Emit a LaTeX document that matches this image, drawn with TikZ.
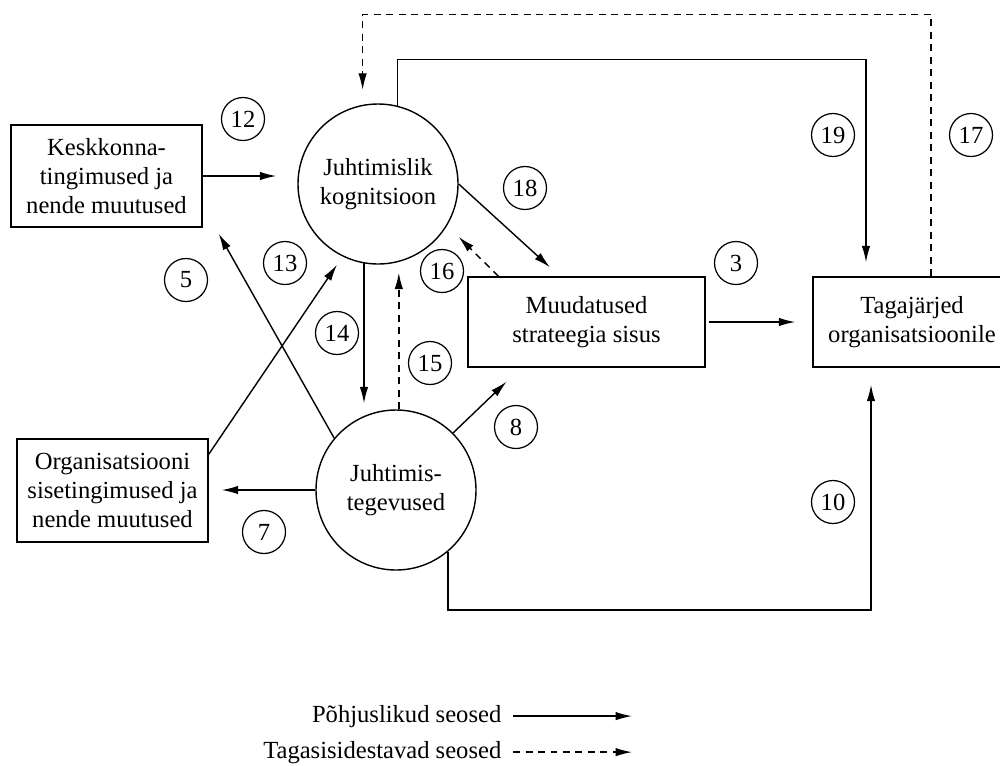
\documentclass[tikz,border=0pt]{standalone}
\usepackage{fontspec}
\setmainfont{Liberation Serif}
\usetikzlibrary{arrows.meta}
\newlength{\pxu}
\setlength{\pxu}{0.02cm}
\begin{document}
\begin{tikzpicture}[x=0.02cm, y=-0.02cm, line width=0.8pt,
		font=\fontsize{14}{16.5}\selectfont,
		block/.style={draw, align=center, inner sep=0pt},
		bubble/.style={draw, circle, align=center, inner sep=0pt, minimum size=160\pxu},
		tag/.style={draw, circle, inner sep=0pt, minimum size=43\pxu, line width=0.7pt},
		cause/.style={-{Latex[length=3.3mm, width=1.7mm]}},
		fb/.style={cause, dash pattern=on 1.4mm off 1.1mm}]
	\useasboundingbox (0,0) rectangle (1000,765);
	\clip (0,0) rectangle (1000,765);

	\node[block, minimum width=191\pxu, minimum height=102\pxu] (env) at (106.5,176) {Keskkonna-\\tingimused ja\\nende muutused};
	\node[block, minimum width=191\pxu, minimum height=103\pxu] (org) at (112.5,490.5) {Organisatsiooni\\sisetingimused ja\\nende muutused};
	\node[block, minimum width=237\pxu, minimum height=90\pxu] (str) at (586.5,322) {Muudatused\\strateegia sisus};
	\node[block, minimum width=198\pxu, minimum height=90\pxu] (res) at (912,322) {Tagajärjed\\organisatsioonile};
	\node[bubble] (cog) at (378,184) {Juhtimislik\\kognitsioon};
	\node[bubble] (act) at (396,490) {Juhtimis-\\tegevused};

	\begin{scope}[cause]
		\draw[shorten >=21\pxu] (env.east) -- (env.east -| cog.west);
		\draw ([yshift=-16\pxu]org.north east) -- ([xshift=-41\pxu]cog.south);
		\draw (act.140) -- ([xshift=16\pxu, yshift=-6\pxu]env.south east);
		\draw[shorten >=6\pxu] (cog.260) -- (cog.260 |- act.north);
		\draw (cog.east) -- ([xshift=-36.5\pxu, yshift=9\pxu]str.north);
		\draw (act.45) -- ([xshift=-80\pxu, yshift=-14\pxu]str.south);
		\draw[shorten >=13\pxu] (act.west) -- (act.west -| org.east);
		\draw[shorten <=3\pxu, shorten >=17\pxu] (str.east) -- (res.west);
		\draw[shorten >=17\pxu] (act.310) -- ++(0,58) -| ([xshift=-41\pxu]res.south);
		\draw[shorten >=14\pxu] (cog.76) -- ++(0,-46) -| ([xshift=-46\pxu]res.north);
	\end{scope}
	\begin{scope}[fb]
		\draw[shorten >=8\pxu] (act.88) -- (act.88 |- cog.south);
		\draw[shorten >=16\pxu] ([xshift=-88\pxu]str.north) -- (cog.329);
		\draw[shorten >=15\pxu] ([xshift=19\pxu]res.north) -- ++(0,-262) -| (cog.101);
	\end{scope}

	\foreach \num/\x/\y in {12/243/119, 5/186/280, 13/285/263, 14/337/333, 15/430/363,
			16/442/271, 8/516/427, 7/264/532, 18/525/188, 3/736/263, 19/833/135,
			17/971/135, 10/833/502}
		\node[tag] (n\num) at (\x,\y) {\num};

	\node[anchor=base east, inner sep=0pt] (lc) at (502,722) {Põhjuslikud seosed};
	\node[anchor=base east, inner sep=0pt] (lf) at (502,758) {Tagasisidestavad seosed};
	\draw[cause] ([xshift=11\pxu]lc.east) -- ++(119,0);
	\draw[fb] ([xshift=11\pxu]lf.east) -- ++(119,0);
\end{tikzpicture}
\end{document}
